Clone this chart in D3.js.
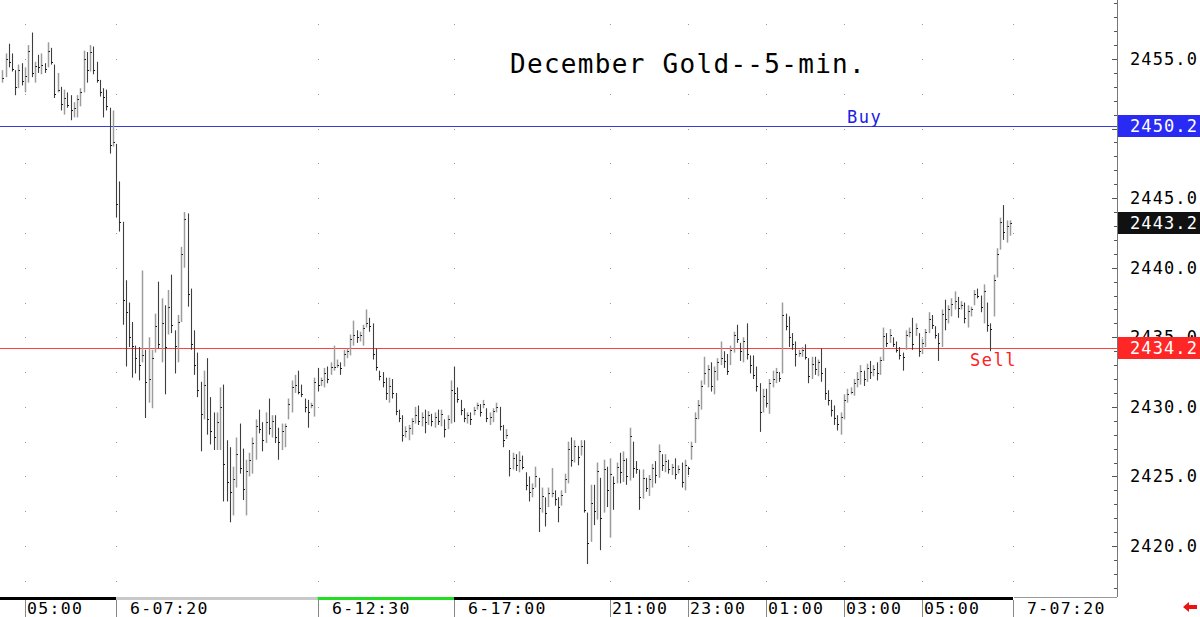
<!DOCTYPE html>
<html lang="en">
<head>
<meta charset="utf-8">
<title>December Gold 5-min</title>
<script src="https://cdn.jsdelivr.net/npm/d3@7"></script>
<style>
  body { margin: 0; background: #fff; }
  svg text { font-family: "DejaVu Sans Mono", monospace; }
</style>
</head>
<body>
<script>
// 5-min bars (high / low / close)
var highs = [
 2454.2,2455.4,2456.1,2455.4,2454.2,2454.6,2454.7,2454.4,2456.0,2456.9,
 2454.8,2455.3,2455.4,2454.7,2456.2,2455.8,2454.6,2454.0,2453.0,2452.8,
 2452.6,2452.4,2451.9,2452.4,2452.9,2455.6,2455.5,2456.0,2455.9,2454.8,
 2453.5,2452.9,2452.8,2451.5,2451.3,2448.9,2446.2,2443.3,2439.1,2437.5,
 2436.1,2434.4,2434.3,2439.8,2434.1,2435.0,2434.1,2436.7,2439.0,2437.8,
 2437.3,2438.4,2439.5,2435.5,2436.6,2441.5,2444.0,2443.9,2438.5,2435.5,
 2433.9,2431.8,2432.6,2433.5,2430.7,2429.6,2429.6,2431.4,2431.6,2427.6,
 2427.1,2425.7,2427.8,2428.8,2427.0,2426.2,2426.7,2427.8,2429.1,2429.8,
 2428.9,2429.6,2430.6,2429.4,2429.4,2428.5,2428.8,2428.8,2430.6,2431.9,
 2432.3,2432.6,2431.6,2430.6,2430.5,2430.3,2432.1,2432.8,2432.1,2432.8,
 2432.9,2433.2,2434.4,2433.4,2433.2,2434.1,2434.2,2435.2,2436.2,2435.5,
 2435.4,2435.9,2437.0,2436.4,2436.0,2434.2,2432.6,2432.5,2432.1,2432.1,
 2432.0,2431.0,2429.8,2429.4,2428.6,2428.7,2429.2,2430.0,2430.1,2429.6,
 2429.8,2429.7,2429.5,2429.6,2429.8,2429.8,2429.1,2429.4,2431.9,2432.9,
 2431.4,2430.5,2429.9,2429.6,2429.6,2430.0,2430.3,2430.2,2430.5,2429.9,
 2429.6,2429.9,2430.3,2430.0,2428.7,2428.4,2426.9,2426.7,2426.6,2426.8,
 2426.5,2425.3,2425.0,2424.5,2425.7,2424.9,2424.2,2423.5,2424.2,2425.6,
 2424.0,2423.5,2424.0,2425.2,2427.5,2427.8,2427.6,2427.2,2427.6,2427.6,
 2422.4,2424.4,2424.4,2426.0,2424.9,2426.2,2425.7,2426.3,2425.0,2426.0,
 2426.7,2426.8,2426.3,2428.5,2427.5,2426.1,2425.5,2425.5,2424.9,2425.1,
 2425.9,2426.1,2427.3,2426.6,2426.6,2426.2,2425.9,2426.3,2425.8,2426.0,
 2426.2,2425.7,2427.5,2429.6,2430.5,2431.9,2433.6,2433.0,2433.2,2432.9,
 2433.5,2434.7,2434.0,2433.8,2434.4,2435.4,2435.9,2434.6,2435.0,2436.0,
 2433.7,2433.7,2432.9,2431.7,2431.3,2431.3,2432.0,2432.6,2432.8,2432.5,
 2437.5,2436.7,2436.5,2435.3,2434.7,2434.1,2434.3,2434.5,2433.5,2433.6,
 2433.6,2433.4,2434.2,2432.8,2431.2,2430.5,2430.1,2429.4,2429.6,2430.9,
 2431.3,2431.4,2432.0,2432.5,2433.0,2432.6,2433.1,2433.3,2433.0,2433.2,
 2433.6,2435.7,2435.3,2435.6,2435.0,2434.7,2434.3,2433.9,2435.5,2435.7,
 2436.4,2436.0,2435.3,2434.9,2435.6,2436.8,2436.6,2435.8,2435.3,2437.0,
 2437.7,2437.3,2437.8,2438.3,2437.9,2437.6,2437.5,2437.3,2437.2,2438.4,
 2438.5,2438.0,2438.8,2437.5,2436.0,2439.5,2441.4,2443.6,2444.5,2443.4,
 2443.4
];
var lows = [
 2453.3,2453.7,2454.4,2454.1,2452.4,2452.9,2453.1,2452.6,2453.3,2453.7,
 2453.3,2454.0,2453.9,2454.0,2454.4,2454.6,2452.2,2452.6,2451.3,2451.0,
 2451.5,2450.6,2450.8,2450.8,2451.6,2452.6,2453.3,2454.1,2453.9,2453.3,
 2452.3,2450.8,2451.3,2448.2,2448.7,2443.6,2442.6,2435.9,2432.9,2434.3,
 2432.1,2432.4,2431.9,2433.2,2429.2,2430.3,2429.9,2433.9,2434.2,2433.2,
 2430.9,2435.2,2435.3,2432.4,2433.2,2436.1,2440.0,2437.2,2434.1,2432.3,
 2430.7,2426.8,2429.1,2428.0,2427.3,2426.9,2426.9,2426.9,2423.2,2423.2,
 2421.7,2422.2,2424.2,2425.2,2423.3,2422.2,2425.0,2425.2,2426.2,2428.1,
 2426.8,2427.4,2428.0,2427.8,2427.4,2426.2,2426.9,2427.1,2429.1,2429.6,
 2431.0,2430.9,2430.7,2429.6,2428.5,2429.9,2429.3,2431.1,2431.5,2431.4,
 2431.7,2432.3,2432.6,2432.8,2432.3,2432.9,2433.5,2433.7,2434.4,2434.6,
 2434.7,2434.4,2435.7,2435.4,2433.4,2432.6,2431.9,2431.4,2430.5,2430.3,
 2430.6,2429.4,2428.9,2427.5,2427.8,2427.6,2428.0,2428.8,2428.7,2428.6,
 2428.1,2428.7,2428.6,2428.5,2428.7,2428.6,2427.8,2428.4,2428.8,2428.9,
 2430.3,2429.4,2428.9,2428.8,2428.7,2429.4,2429.8,2429.3,2429.9,2428.9,
 2428.7,2428.9,2429.6,2428.3,2427.1,2427.7,2425.0,2425.5,2425.4,2425.3,
 2425.5,2424.0,2423.2,2423.5,2424.2,2421.0,2422.4,2421.4,2422.8,2423.5,
 2422.9,2421.7,2422.9,2423.8,2424.5,2425.7,2426.0,2425.8,2426.5,2422.4,
 2418.7,2420.3,2421.5,2421.9,2419.7,2422.4,2422.8,2420.6,2422.6,2424.5,
 2424.5,2424.6,2424.4,2424.7,2424.9,2425.2,2422.6,2423.4,2423.9,2423.6,
 2424.2,2424.5,2424.9,2425.4,2425.3,2425.2,2425.1,2424.8,2425.2,2424.2,
 2424.0,2425.1,2426.2,2427.4,2429.1,2429.8,2431.6,2431.4,2431.1,2430.9,
 2431.9,2433.0,2432.8,2432.3,2433.0,2433.9,2434.6,2433.3,2433.2,2433.4,
 2432.4,2432.0,2431.1,2428.2,2429.6,2430.0,2429.5,2431.4,2431.7,2431.8,
 2432.4,2435.5,2434.3,2434.1,2432.9,2433.6,2433.6,2433.4,2431.7,2432.0,
 2432.3,2432.2,2431.8,2430.5,2430.1,2429.3,2428.7,2428.3,2428.0,2429.1,
 2430.3,2430.9,2430.8,2431.4,2431.6,2431.5,2431.8,2432.0,2432.2,2431.9,
 2432.3,2433.3,2434.3,2434.6,2434.3,2433.9,2433.4,2432.6,2434.1,2435.0,
 2434.1,2435.1,2433.6,2433.8,2434.3,2435.3,2435.6,2434.9,2433.3,2434.3,
 2435.5,2436.0,2436.5,2437.0,2436.4,2437.0,2436.0,2435.7,2436.5,2437.3,
 2437.8,2436.8,2436.0,2435.4,2434.0,2436.5,2439.3,2441.3,2442.0,2441.8,
 2442.3
];
var closes = [
 2453.6,2455.0,2454.8,2454.3,2453.0,2454.2,2453.4,2453.8,2455.6,2454.0,
 2454.5,2454.4,2454.6,2454.3,2455.6,2454.8,2452.5,2452.8,2451.8,2452.2,
 2451.7,2451.3,2451.5,2452.1,2452.6,2455.0,2454.2,2455.5,2454.2,2453.5,
 2452.6,2452.3,2451.6,2448.8,2449.0,2444.6,2443.3,2437.7,2436.8,2435.0,
 2434.4,2433.5,2433.0,2433.7,2431.8,2432.0,2433.5,2435.8,2434.5,2436.0,
 2434.3,2437.2,2435.9,2434.4,2436.1,2441.0,2443.5,2438.1,2434.5,2433.0,
 2431.2,2429.5,2431.6,2429.1,2428.3,2427.8,2428.9,2430.0,2425.9,2424.6,
 2423.9,2424.8,2426.6,2425.6,2424.1,2425.4,2426.2,2427.4,2428.6,2428.4,
 2427.6,2428.9,2428.5,2429.0,2427.8,2427.5,2428.3,2428.6,2430.2,2431.4,
 2431.6,2431.1,2430.9,2430.0,2429.6,2430.1,2431.8,2431.6,2431.9,2432.4,
 2432.0,2432.9,2432.9,2433.0,2432.8,2433.8,2434.0,2434.9,2435.2,2435.0,
 2435.2,2435.7,2436.0,2435.8,2433.8,2432.9,2432.2,2431.8,2431.0,2431.5,
 2431.0,2429.7,2429.2,2428.0,2428.3,2428.5,2429.0,2429.4,2429.0,2429.3,
 2428.9,2429.4,2429.0,2429.3,2429.0,2429.5,2428.4,2429.1,2431.2,2431.0,
 2430.6,2429.8,2429.2,2429.4,2429.1,2429.8,2430.1,2429.6,2430.2,2429.2,
 2429.3,2429.7,2430.0,2428.6,2427.6,2428.0,2425.6,2426.3,2425.8,2426.2,
 2425.7,2424.4,2423.9,2424.2,2425.0,2422.7,2423.6,2422.4,2423.8,2423.8,
 2423.4,2422.8,2423.7,2424.8,2427.0,2426.2,2427.2,2426.4,2427.2,2422.6,
 2420.2,2423.1,2422.5,2425.4,2422.0,2425.5,2424.0,2425.2,2424.5,2425.7,
 2425.3,2426.2,2425.0,2427.9,2425.6,2425.5,2423.5,2424.9,2424.2,2424.8,
 2425.6,2425.1,2426.8,2425.8,2426.1,2425.5,2425.7,2425.2,2425.5,2424.6,
 2425.8,2425.6,2427.2,2429.2,2430.1,2431.5,2432.4,2432.7,2431.5,2432.6,
 2433.2,2433.5,2433.3,2432.6,2434.1,2435.2,2434.9,2434.0,2434.7,2433.8,
 2433.0,2432.3,2431.5,2429.6,2430.8,2430.3,2431.7,2432.0,2432.5,2432.1,
 2436.6,2435.8,2435.0,2434.5,2433.8,2433.9,2434.1,2433.6,2432.2,2433.1,
 2432.7,2433.2,2432.4,2431.0,2430.5,2429.8,2429.2,2428.8,2429.3,2430.5,
 2430.9,2431.1,2431.7,2432.0,2432.6,2432.0,2432.8,2432.5,2432.7,2432.4,
 2433.4,2435.1,2434.6,2435.2,2434.5,2434.1,2433.7,2433.6,2435.2,2435.4,
 2434.5,2435.7,2434.0,2434.6,2435.4,2436.3,2435.9,2435.2,2434.6,2436.7,
 2436.3,2437.0,2437.4,2437.6,2437.1,2437.3,2436.4,2436.9,2437.0,2438.1,
 2438.0,2437.2,2438.3,2435.9,2435.6,2439.1,2441.0,2443.3,2442.6,2443.0,
 2443.2
];

// x axis: bar index of each time label
var timeIdx = [7, 35, 97, 139, 187, 211, 235, 259, 283, 311];
var timeLabels = ["05:00", "6-07:20", "6-12:30", "6-17:00", "21:00", "23:00", "01:00", "03:00", "05:00", "7-07:20"];

// session strip under the bars: [from index, to index]
var sessions = [[-7, 35], [35, 97], [97, 139], [139, 311]];
var sessionColors = ["#000000", "#c8c8c8", "#22dd22", "#000000"];

// price axis
var priceTicks = [2420, 2425, 2430, 2435, 2440, 2445, 2450, 2455];
var buyLevel = 2450.2;
var sellLevel = 2434.2;
var lastPrice = 2443.2;

var w = 1200, h = 617;
var plotRight = 1117, plotBottom = 597;

var xScale = d3.scaleLinear().domain([0, 311]).range([2.25, 2.25 + 3.25 * 311]);
var yScale = d3.scaleLinear().domain([2420, 2455]).range([546, 59]);

var svg = d3.select("body").append("svg")
  .attr("width", w).attr("height", h);

svg.append("rect").attr("width", w).attr("height", h).attr("fill", "#fff");

// dotted grid: dots at the label columns, every 2.5
var gridLevels = d3.range(2417.5, 2458, 2.5);
var dots = [];
timeIdx.forEach(function(t){ gridLevels.forEach(function(p){ dots.push([t, p]); }); });
svg.append("g").selectAll("rect")
  .data(dots)
  .enter().append("rect")
  .attr("x", d => Math.round(xScale(d[0])))
  .attr("y", d => Math.round(yScale(d[1])))
  .attr("width", 1).attr("height", 1)
  .attr("fill", "#9a9a9a");

// buy / sell lines
svg.append("line")
  .attr("x1", 0).attr("x2", plotRight)
  .attr("y1", Math.round(yScale(buyLevel)) + 0.5).attr("y2", Math.round(yScale(buyLevel)) + 0.5)
  .attr("stroke", "#3b3bdc").attr("stroke-width", 1);
svg.append("line")
  .attr("x1", 0).attr("x2", plotRight)
  .attr("y1", Math.round(yScale(sellLevel)) + 0.5).attr("y2", Math.round(yScale(sellLevel)) + 0.5)
  .attr("stroke", "#ff4040").attr("stroke-width", 1);

// bars
var bars = highs.map(function(hv, i){
  return { i: i, h: hv, l: lows[i], c: closes[i], up: i == 0 || closes[i] >= closes[i - 1] };
});
var barG = svg.append("g");
barG.selectAll("line.hl")
  .data(bars)
  .enter().append("line")
  .attr("class", "hl")
  .attr("x1", d => Math.round(xScale(d.i)) + 0.5)
  .attr("x2", d => Math.round(xScale(d.i)) + 0.5)
  .attr("y1", d => yScale(d.h))
  .attr("y2", d => yScale(d.l))
  .attr("stroke", d => d.up ? "#9c9c9c" : "#3e3e3e")
  .attr("stroke-width", d => d.up ? 1.5 : 1.1);
barG.selectAll("line.cl")
  .data(bars)
  .enter().append("line")
  .attr("class", "cl")
  .attr("x1", d => Math.round(xScale(d.i)) + 0.5)
  .attr("x2", d => Math.round(xScale(d.i)) + 2)
  .attr("y1", d => Math.round(yScale(d.c)) + 0.5)
  .attr("y2", d => Math.round(yScale(d.c)) + 0.5)
  .attr("stroke", "#111").attr("stroke-width", 1);

// title and level texts
svg.append("text")
  .attr("x", 510).attr("y", 73)
  .style("font-size", "26px").style("letter-spacing", "1.3px")
  .attr("fill", "#000")
  .text("December Gold--5-min.");
svg.append("text")
  .attr("x", 847).attr("y", 123)
  .style("font-size", "17px").style("letter-spacing", "1.5px")
  .attr("fill", "#2020e0")
  .text("Buy");
svg.append("text")
  .attr("x", 970).attr("y", 366)
  .style("font-size", "17px").style("letter-spacing", "1.5px")
  .attr("fill", "#ff2020")
  .text("Sell");

// right price axis
svg.append("line")
  .attr("x1", plotRight + 0.5).attr("x2", plotRight + 0.5)
  .attr("y1", 0).attr("y2", plotBottom)
  .attr("stroke", "#777");
svg.append("line")
  .attr("x1", 1014).attr("x2", plotRight)
  .attr("y1", plotBottom + 0.5).attr("y2", plotBottom + 0.5)
  .attr("stroke", "#999");

var yAxis = d3.axisRight(yScale)
  .tickValues(priceTicks)
  .tickSize(0)
  .tickPadding(13)
  .tickFormat(d3.format(".1f"));
var yAxisG = svg.append("g")
  .attr("transform", "translate(" + plotRight + ",0)")
  .call(yAxis);
yAxisG.select(".domain").remove();
yAxisG.selectAll("text")
  .style("font-family", "'DejaVu Sans Mono', monospace")
  .style("font-size", "17px")
  .style("letter-spacing", "1.1px")
  .attr("fill", "#000");

// minor ticks on the price axis
var minorTicks = d3.range(2417, 2460, 1);
svg.append("g").selectAll("line")
  .data(minorTicks)
  .enter().append("line")
  .attr("x1", d => d % 5 == 0 ? plotRight - 5 : plotRight - 3)
  .attr("x2", plotRight)
  .attr("y1", d => Math.round(yScale(d)) + 0.5)
  .attr("y2", d => Math.round(yScale(d)) + 0.5)
  .attr("stroke", "#555");

// coloured price boxes
var boxes = [
  { v: buyLevel, fill: "#2a2af5" },
  { v: lastPrice, fill: "#111111" },
  { v: sellLevel, fill: "#ff2626" }
];
var boxG = svg.append("g").selectAll("g")
  .data(boxes)
  .enter().append("g")
  .attr("transform", d => "translate(" + (plotRight + 1) + "," + Math.round(yScale(d.v)) + ")");
boxG.append("rect")
  .attr("x", 0).attr("y", -11)
  .attr("width", w - plotRight).attr("height", 22)
  .attr("fill", d => d.fill);
boxG.append("text")
  .attr("x", 12).attr("y", 0).attr("dy", "0.35em")
  .style("font-size", "17px").style("letter-spacing", "1.1px")
  .attr("fill", "#fff")
  .text(d => d.v.toFixed(1));

// session strip
svg.append("g").selectAll("rect")
  .data(sessions)
  .enter().append("rect")
  .attr("x", d => Math.max(0, xScale(d[0])))
  .attr("y", plotBottom)
  .attr("width", d => xScale(d[1]) - Math.max(0, xScale(d[0])))
  .attr("height", 3)
  .attr("fill", (d, i) => sessionColors[i]);

// time labels
var tG = svg.append("g").selectAll("g")
  .data(timeIdx)
  .enter().append("g")
  .attr("transform", d => "translate(" + Math.round(xScale(d)) + ",0)");
tG.append("line")
  .attr("x1", 0.5).attr("x2", 0.5)
  .attr("y1", plotBottom + 3).attr("y2", h)
  .attr("stroke", "#888");
tG.append("text")
  .attr("x", (d, i) => timeLabels[i].indexOf("-") > 0 ? 14 : 2)
  .attr("y", 614)
  .style("font-size", "16.5px").style("letter-spacing", "1.3px")
  .attr("fill", "#000")
  .text((d, i) => timeLabels[i]);

// red arrow at the bottom right
svg.append("path")
  .attr("d", "M1183,607 L1189,602 L1189,605 L1197,605 L1197,609 L1189,609 L1189,612 Z")
  .attr("fill", "#ee1111");
</script>
</body>
</html>
